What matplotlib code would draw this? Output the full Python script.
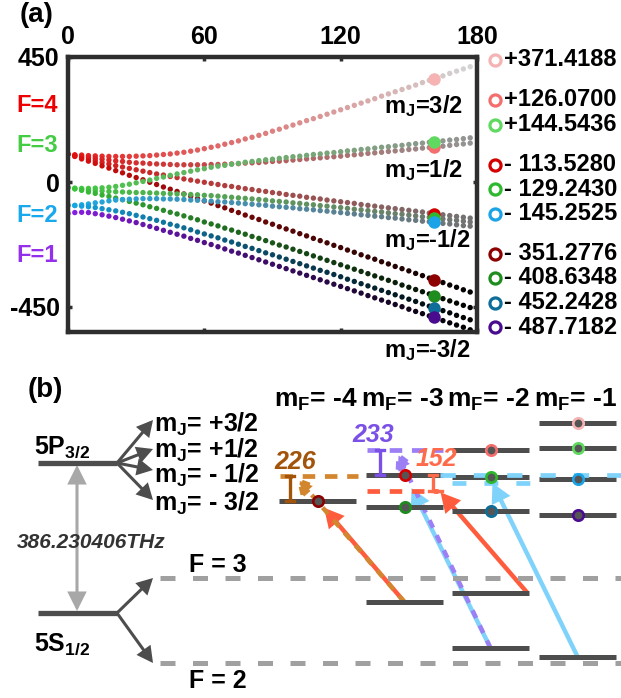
import numpy as np
import matplotlib
matplotlib.use('Agg')
import matplotlib.pyplot as plt
from matplotlib.patches import FancyArrowPatch

plt.rcParams['font.family'] = ['Liberation Sans', 'DejaVu Sans']
plt.rcParams['font.weight'] = 'bold'
plt.rcParams['mathtext.fontset'] = 'custom'
plt.rcParams['mathtext.bf'] = 'Liberation Sans:bold'
plt.rcParams['mathtext.rm'] = 'Liberation Sans:bold'
plt.rcParams['mathtext.it'] = 'Liberation Sans:bold:italic'
plt.rcParams['lines.scale_dashes'] = False
plt.rcParams['axes.unicode_minus'] = False

# magnetic field (G) of the dots
field_g = [0, 3, 6, 9, 12, 15, 18, 21, 24, 27, 30, 33, 36, 39, 42, 45, 48, 51, 54, 57,
           60, 63, 66, 69, 72, 75, 78, 81, 84, 87, 90, 93, 96, 99, 102, 105, 108, 111, 114, 117,
           120, 123, 126, 129, 132, 135, 138, 141, 144, 147, 150, 153, 156, 159, 162, 165, 168, 171, 174, 177]

# level shifts (MHz), named e_mf<|mF|>_f<F at zero field>
e_mf1_f4 = [100, 98, 97, 95, 94, 93, 92, 92, 92, 92, 93, 94, 95, 97, 99, 101, 104, 107, 111, 115,
            120, 125, 130, 136, 142, 148, 155, 161, 168, 175, 183, 190, 198, 205, 213, 221, 228, 236, 244, 252,
            260, 268, 276, 284, 292, 300, 309, 317, 325, 333, 341, 349, 358, 366, 374, 382, 391, 399, 407, 415]
e_mf2_f4 = [100, 96, 92, 89, 85, 82, 79, 76, 74, 71, 69, 68, 66, 65, 64, 63, 62, 62, 62, 62,
            62, 63, 63, 64, 65, 66, 68, 69, 70, 72, 74, 75, 77, 79, 81, 83, 85, 87, 89, 91,
            93, 96, 98, 100, 103, 105, 107, 110, 112, 114, 117, 119, 122, 124, 127, 129, 132, 135, 137, 140]
e_mf3_f4 = [100, 94, 88, 82, 76, 70, 65, 59, 54, 49, 44, 39, 34, 29, 25, 20, 16, 11, 7, 3,
            -1, -5, -9, -13, -16, -20, -24, -27, -31, -34, -38, -41, -45, -48, -51, -55, -58, -61, -65, -68,
            -71, -74, -77, -81, -84, -87, -90, -93, -96, -99, -102, -105, -108, -112, -115, -118, -121, -124, -127, -130]
e_mf4_f4 = [100, 92, 83, 75, 67, 58, 50, 41, 33, 24, 16, 8, -1, -9, -18, -26, -34, -43, -51, -60,
            -68, -76, -85, -93, -102, -110, -119, -127, -135, -144, -152, -161, -169, -177, -186, -194, -203, -211, -219, -228,
            -236, -245, -253, -262, -270, -278, -287, -295, -304, -312, -320, -329, -337, -346, -354, -362, -371, -379, -388, -396]
e_mf1_f3 = [-20, -22, -23, -23, -22, -21, -19, -16, -12, -8, -3, 2, 7, 13, 18, 24, 29, 34, 39, 44,
            48, 53, 57, 60, 64, 67, 71, 74, 77, 80, 82, 85, 88, 91, 93, 96, 99, 101, 104, 106,
            109, 112, 114, 117, 119, 122, 125, 127, 130, 132, 135, 138, 140, 143, 145, 148, 151, 153, 156, 159]
e_mf2_f3 = [-20, -24, -26, -29, -31, -32, -34, -35, -36, -37, -38, -38, -39, -40, -41, -42, -43, -44, -45, -46,
            -48, -49, -51, -53, -55, -57, -59, -61, -63, -65, -68, -70, -72, -75, -77, -80, -82, -85, -87, -90,
            -92, -95, -98, -100, -103, -106, -108, -111, -114, -116, -119, -122, -125, -127, -130, -133, -136, -138, -141, -144]
e_mf3_f3 = [-20, -25, -30, -36, -41, -47, -52, -58, -64, -70, -76, -82, -89, -95, -102, -109, -115, -122, -129, -136,
            -144, -151, -158, -166, -173, -181, -188, -196, -203, -211, -219, -227, -234, -242, -250, -258, -266, -274, -282, -290,
            -298, -306, -314, -322, -330, -338, -346, -354, -362, -371, -379, -387, -395, -403, -411, -420, -428, -436, -444, -452]
e_mf1_f2 = [-84, -84, -82, -79, -75, -72, -68, -65, -63, -62, -61, -60, -60, -60, -61, -61, -62, -63, -65, -66,
            -67, -69, -71, -72, -74, -76, -78, -80, -82, -84, -87, -89, -91, -93, -96, -98, -100, -103, -105, -108,
            -110, -113, -115, -118, -120, -123, -125, -128, -130, -133, -136, -138, -141, -143, -146, -149, -151, -154, -157, -159]
e_mf2_f2 = [-84, -85, -87, -89, -92, -96, -100, -104, -109, -114, -120, -126, -132, -138, -145, -152, -158, -165, -172, -180,
            -187, -194, -201, -209, -216, -224, -232, -239, -247, -255, -262, -270, -278, -286, -294, -302, -310, -318, -325, -333,
            -341, -350, -358, -366, -374, -382, -390, -398, -406, -414, -422, -430, -439, -447, -455, -463, -471, -480, -488, -496]
e_mf1_f1 = [-113, -110, -109, -110, -114, -118, -123, -128, -134, -140, -146, -153, -160, -167, -174, -181, -188, -195, -203, -210,
            -218, -225, -233, -241, -249, -256, -264, -272, -280, -288, -296, -304, -312, -320, -328, -336, -344, -352, -360, -368,
            -376, -384, -392, -400, -409, -417, -425, -433, -441, -449, -458, -466, -474, -482, -490, -499, -507, -515, -523, -532]

curve_data = [e_mf1_f4, e_mf2_f4, e_mf3_f4, e_mf4_f4, e_mf1_f3, e_mf2_f3, e_mf3_f3,
              e_mf1_f2, e_mf2_f2, e_mf1_f1]
curve_F = [4, 4, 4, 4, 3, 3, 3, 2, 2, 1]
curve_mj = [1.5, 0.5, -0.5, -1.5, 0.5, -0.5, -1.5, -0.5, -1.5, -1.5]

# states at the marked field
b_mark = 161
legend_vals = [371.4188, 126.0700, 144.5436, -113.5280, -129.2430, -145.2525,
               -351.2776, -408.6348, -452.2428, -487.7182]
legend_mf = [-1, -2, -1, -3, -2, -1, -4, -3, -2, -1]
legend_group = [0, 1, 1, 2, 2, 2, 3, 3, 3, 3]
legend_cols = ['#F5B3B3', '#F46E6E', '#5FD95F', '#D40000', '#2EB82E', '#1AA3E6',
               '#8C0000', '#1F8C1F', '#0E6E99', '#4A0C8F']

# ground state Zeeman shifts (MHz) used in (b)
ground_mf = [-3, -2, -2, -1]
ground_F = [3, 3, 2, 2]
ground_shift = [-225, -140, 140, 60]
detune = [226, 233, 152]

f_cols = {4: np.array([0.91, 0.06, 0.06]), 3: np.array([0.24, 0.80, 0.24]),
          2: np.array([0.09, 0.67, 0.92]), 1: np.array([0.55, 0.12, 0.92])}
end_gray = {1.5: 0.83, 0.5: 0.58, -0.5: 0.45, -1.5: 0.0}

W, H_ = 621, 698
fig = plt.figure(figsize=(6.21, 6.98), dpi=100)

# ---- panel (a) ----
ax = fig.add_axes([68 / W, 1 - 332 / H_, (477 - 68) / W, (332 - 57) / H_])
fx = np.array(field_g, dtype=float)
t = (fx / fx.max()) ** 0.8
for y, F, mj in zip(curve_data, curve_F, curve_mj):
    c1 = np.array([end_gray[mj]] * 3)
    cols = (1 - t)[:, None] * f_cols[F] + t[:, None] * c1
    ax.scatter(fx, y, s=15, c=cols, linewidths=0, zorder=2)

for v, col in zip(legend_vals, legend_cols):
    ax.plot([b_mark], [v], 'o', ms=9, color=col, mec='none', zorder=3)

ax.set_xlim(0, 180)
ax.set_ylim(-540, 450)
ax.set_xticks([0, 60, 120, 180])
ax.set_yticks([-450, 0, 450])
ax.xaxis.tick_top()
ax.tick_params(direction='in', length=3, width=2.5, labelsize=18, pad=6,
               top=True, bottom=True, left=True, right=True, color='#2E2E2E')
for s in ax.spines.values():
    s.set_linewidth(3.2)
    s.set_color('#2E2E2E')

# overlay in pixel units for labels and the level diagram
ov = fig.add_axes([0, 0, 1, 1])
ov.set_xlim(0, W)
ov.set_ylim(H_, 0)
ov.axis('off')

ov.text(37, 15, '(a)', fontsize=20, ha='center', va='center')
ov.text(45, 390, '(b)', fontsize=20, ha='center', va='center')
for lab, yy, col in [('F=4', 105, '#EE0000'), ('F=3', 145, '#44CC44'),
                     ('F=2', 216, '#18A8EC'), ('F=1', 256, '#9430EC')]:
    ov.text(58, yy, lab, color=col, fontsize=17, ha='right', va='center')
for lab, yy in [('3/2', 106), ('1/2', 170), ('-1/2', 240), ('-3/2', 350)]:
    ov.text(384, yy, r'm$_\mathbf{J}$=' + lab, fontsize=17, ha='left', va='center')
for i, (v, col, g) in enumerate(zip(legend_vals, legend_cols, legend_group)):
    yy = 60 + i * 24.5 + g * 15.5
    ov.plot([495], [yy], 'o', ms=8, mfc='white', mec=col, mew=2.3)
    txt = ('+%.4f' % v) if v > 0 else ('- %.4f' % -v)
    ov.text(504, yy, txt, fontsize=17, ha='left', va='center')

# ---- panel (b) ----
k = 0.107           # px per MHz
yP, yS = 463, 613
yF3, yF2 = 578, 663
dark = '#4D4D4D'
col_x = {-4: 317.5, -3: 404.5, -2: 490.5, -1: 577.5}
half = 38.5


def ye(E):
    return yP - k * E


def arrow(p0, p1, color, lw, ls='-', ms=12, shrink=0,
          style='-|>,head_length=0.75,head_width=0.4'):
    ov.add_patch(FancyArrowPatch(p0, p1, arrowstyle=style, mutation_scale=ms,
                                 color=color, lw=lw, linestyle=ls, shrinkA=0,
                                 shrinkB=shrink, capstyle='butt', joinstyle='miter'))


ov.plot([38, 117], [yP, yP], color=dark, lw=3.8, solid_capstyle='butt')
ov.plot([38, 117], [yS, yS], color=dark, lw=3.8, solid_capstyle='butt')
ov.text(34, 454, r'5P$_\mathbf{3/2}$', fontsize=18, ha='left', va='baseline')
ov.text(34, 651, r'5S$_\mathbf{1/2}$', fontsize=18, ha='left', va='baseline')
arrow((77, yP + 2), (77, yS - 2), '#A8A8A8', 2.2,
      style='<|-|>,head_length=0.7,head_width=0.35', ms=15)
ov.text(91, 542, '386.230406THz', fontsize=15, style='italic', color='#333333',
        ha='center', va='center')

mj_labels = ['+3/2', '+1/2', '- 1/2', '- 3/2']
mj_tips = [420, 449, 470, 500]
mj_text_y = [424, 450, 475, 503]
for lab, ty, yy in zip(mj_labels, mj_tips, mj_text_y):
    arrow((117, yP), (153, ty), dark, 2.2, ms=11)
    ov.text(154, yy, r'm$_\mathbf{J}$= ' + lab, fontsize=18, ha='left', va='center')

for yy in [yF3, yF2]:
    arrow((117, yS), (153, yy), dark, 2.2, ms=11)
    ov.plot([160, W], [yy, yy], color='#A0A0A0', lw=3.6, dashes=(10.8, 12.6))
ov.text(218, 565, 'F = 3', fontsize=18, ha='center', va='center')
ov.text(218, 681, 'F = 2', fontsize=18, ha='center', va='center')

for mf in [-4, -3, -2, -1]:
    ov.text(col_x[mf] - 2, 400, r'm$_\mathbf{F}$= %d' % mf, fontsize=19, ha='center', va='center')

for mf, v, col in zip(legend_mf, legend_vals, legend_cols):
    x = col_x[mf]
    ov.plot([x - half, x + half], [ye(v)] * 2, color=dark, lw=3.6, solid_capstyle='butt')
    ov.plot([x], [ye(v)], 'o', ms=7.5, mfc='#555555', mec=col, mew=1.9, zorder=5)

gy = []
for mf, F, sh in zip(ground_mf, ground_F, ground_shift):
    y0 = (yF3 if F == 3 else yF2) - k * sh
    gy.append(y0)
    x = col_x[mf]
    ov.plot([x - half, x + half], [y0] * 2, color=dark, lw=3.6, solid_capstyle='butt')

red, sky, purp, orng = '#FF5C3D', '#7FD3FA', '#9C7EF5', '#D2872F'
e4 = ye(legend_vals[6])
e3 = ye(legend_vals[3])
y226 = e4 - k * detune[0]
y233 = e3 - k * detune[1]
y152 = e3 + k * detune[2]

dash = (9, 7)
ov.plot([col_x[-4] - 38, col_x[-4] + 40], [y226] * 2, color=orng, lw=3.4, dashes=dash)
ov.plot([col_x[-3] - 38, col_x[-3] + 38], [y233] * 2, color=purp, lw=3.4, dashes=dash)
ov.plot([col_x[-3] - 38, col_x[-3] + 33], [y152] * 2, color=red, lw=3.4, dashes=dash)
ov.plot([440, W], [474.5] * 2, color=sky, lw=3.4, dashes=(11, 13))
ov.plot([452, 531], [483] * 2, color=sky, lw=3.4, dashes=(10, 13))

# transitions
arrow((col_x[-3], gy[0]), (col_x[-4] + 3, e4 + 3), red, 3.2, shrink=4)
arrow((col_x[-3], gy[0]), (col_x[-4] - 21, y226 + 1), orng, 3.2, ls=(0, (6, 6)))
arrow((col_x[-2], gy[2]), (col_x[-3] + 7, e3 + 13), sky, 3.2)
arrow((col_x[-2], gy[2]), (col_x[-3] - 8, y233 + 1), purp, 3.2, ls=(0, (6, 6)))
arrow((col_x[-2] + 37, gy[1]), (col_x[-3] + 36, y152 + 1), red, 3.2)
arrow((col_x[-1], gy[3]), (col_x[-2] + 2, 483), sky, 3.2)


def bracket(x, y0, y1, color):
    ov.plot([x, x], [y0, y1], color=color, lw=2.4, solid_capstyle='butt')
    ov.plot([x - 4, x + 4], [y0, y0], color=color, lw=2.4)
    ov.plot([x - 4, x + 4], [y1, y1], color=color, lw=2.4)


bracket(290, y226, e4, '#A3540B')
bracket(380, y233, e3, '#7A50E6')
bracket(433, e3, y152, '#FF6B4A')
ov.plot([433, 442], [y152] * 2, color='#FF6B4A', lw=2.4)
ov.text(295, 462, str(detune[0]), fontsize=18, style='italic', color='#A3540B', ha='center', va='center')
ov.text(373, 435, str(detune[1]), fontsize=18, style='italic', color='#7A50E6', ha='center', va='center')
ov.text(436, 459, str(detune[2]), fontsize=18, style='italic', color='#FF6B4A', ha='center', va='center')

fig.savefig('out.png', dpi=100)
